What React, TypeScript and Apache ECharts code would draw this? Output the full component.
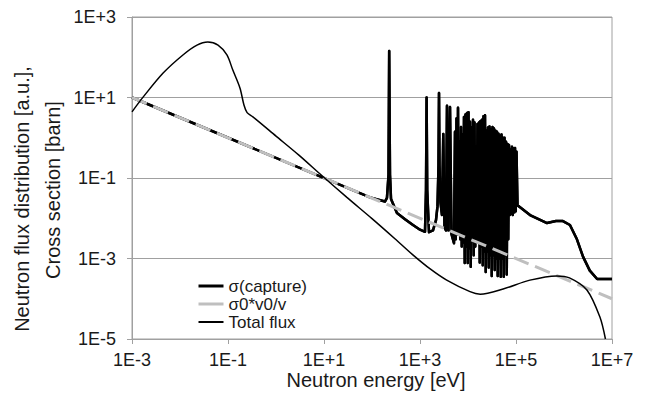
import React, { useEffect, useRef } from "react";
import * as echarts from "echarts";

// Total neutron flux (energy in eV, flux in a.u.)
const fluxEnergy = [
  1e-3, 1.7e-3, 4.5e-3, 0.0115, 0.0226, 0.038, 0.062, 0.095, 0.126, 0.178, 0.215, 0.25, 0.33,
  1, 3, 9, 30, 100, 300, 700, 1630, 3600, 11000, 18000, 54000, 195000, 700000, 1300000, 3000000,
  5600000, 7300000,
];
const fluxValues = [
  4.4, 10.2, 41, 114, 200, 240, 200, 114, 48, 17, 6.5, 4.2, 3.3,
  1.1, 0.37, 0.115, 0.033, 0.0098, 3.1e-3, 1.25e-3, 5.5e-4, 2.9e-4, 1.5e-4, 1.3e-4, 1.75e-4, 2.9e-4, 3.7e-4, 3.3e-4, 1.65e-4,
  3.5e-5, 1e-5,
];

// Capture cross section (energy in eV, sigma in barn)
const sigmaEnergy = [
  1e-3, 91, 186, 205, 221, 228, 237, 249, 331, 487, 714, 1000, 1271, 1334, 1373, 1413, 1540,
  1866, 2154, 2316, 2428, 2489, 2549, 2673, 2870, 3055, 3237, 3480, 3651, 3926, 4217, 4530, 5109,
  // unresolved resonance cluster
  5358, 5556, 5760, 5971, 6190, 6416, 6651, 6895, 7148, 7410, 7681, 7962, 8254, 8556, 8870, 9195,
  9532, 9881, 10243, 10618, 11007, 11410, 11828, 12261, 12710, 13176, 13658, 14159, 14678, 15216,
  15773, 16351, 16950, 17570, 18214, 18881, 19572, 20289, 21032, 21803, 22601, 23429, 24287, 25177,
  26099, 27055, 28046, 29073, 30138, 31242, 32386, 33572, 34802, 36076, 37398, 38767, 40187, 41659,
  43185, 44766, 46416, 48116, 49878, 51705, 53584, 55560, 57600, 59710, 61900, 64160, 66510, 68950,
  71480, 74100, 76810, 79620, 82540, 85560, 88700, 91950, 95320, 98810, 102430,
  // fast range
  107400, 196000, 443000, 680000, 950000, 1330000, 1860000, 2500000, 3450000, 4900000, 1e7,
];
const sigmaCapture = [
  10, 0.033, 0.026, 0.032, 0.12, 143, 0.12, 0.03, 0.0135, 0.0095, 0.0068, 0.0052, 0.0046, 0.05, 10, 0.05, 0.0045,
  0.005, 0.009, 0.02, 0.2, 13, 0.2, 0.025, 0.012, 1.24, 0.006, 0.005, 6.2, 0.005, 5.8, 0.004, 0.0024,
  // unresolved resonance cluster (peak, valley, peak, ...)
  1.4, 0.003, 3, 0.004, 5.6, 0.004, 0.8, 0.003, 1.85, 0.002, 1.2, 0.0025, 3.3, 7.7e-4, 3.8, 0.002,
  4.1, 7.7e-4, 4.3, 0.0018, 2.5, 6.2e-4, 1.8, 0.003, 2.8, 1.2e-3, 2.4, 0.002, 0.6, 0.003, 2.2,
  0.0025, 2.4, 8e-4, 2.6, 0.002, 2.8, 6.8e-4, 3.4, 0.0015, 3.6, 4.6e-4, 1.5, 0.0015, 1.8, 6e-4,
  1.9, 0.0012, 1.6, 3.7e-4, 1.85, 0.0012, 1.7, 5.2e-4, 1.5, 0.001, 1.4, 3.7e-4, 1.25, 0.001, 1.1,
  3.5e-4, 1.2, 0.001, 1.0, 3.5e-4, 1.0, 0.0012, 0.8, 4e-4, 0.7, 0.003, 0.66, 0.012, 0.5, 0.013,
  0.6, 0.012, 0.55, 0.014, 0.56, 0.015, 0.45,
  // fast range
  0.021, 0.012, 0.0076, 0.0085, 0.0085, 0.0068, 0.003, 0.0011, 5e-4, 3.1e-4, 3.1e-4,
];

// 1/v reference line
const refEnergy = [1e-3, 1e7];
const refSigma = [10, 1e-4];

const seriesNames = ["σ(capture)", "σ0*v0/v", "Total flux"];
const yTitleLines = ["Neutron flux distribution [a.u.],", "Cross section [barn]"];
const xTitle = "Neutron energy [eV]";

const FONT = '"Liberation Sans", Arial, sans-serif';
const GRAY = "#a0a0a0";
const TEXT = "#1a1a1a";

const zip = (xs: number[], ys: number[]) => xs.map((x, i) => [x, ys[i]]);
const fmt = (v: number) => {
  const e = Math.round(Math.log10(v));
  return "1E" + (e >= 0 ? "+" : "-") + Math.abs(e);
};

export default function App() {
  const ref = useRef<HTMLDivElement>(null);
  useEffect(() => {
    if (!ref.current) return;
    const chart = echarts.init(ref.current, undefined, { renderer: "svg" });
    chart.setOption({
      animation: false,
      backgroundColor: "#fff",
      grid: { left: 132, right: 34, top: 17, bottom: 71, show: true, borderColor: GRAY, borderWidth: 1 },
      xAxis: {
        type: "log",
        logBase: 10,
        min: 1e-3,
        max: 1e7,
        interval: 2,
        axisLine: { show: true, lineStyle: { color: GRAY } },
        axisTick: { show: true, length: 5, lineStyle: { color: GRAY } },
        axisLabel: { margin: 12, fontSize: 18, fontFamily: FONT, color: TEXT, formatter: fmt },
        splitLine: { show: false },
      },
      yAxis: {
        type: "log",
        logBase: 10,
        min: 1e-5,
        max: 1e3,
        interval: 2,
        axisLine: { show: true, lineStyle: { color: GRAY } },
        axisTick: { show: true, length: 5, lineStyle: { color: GRAY } },
        axisLabel: { margin: 16, fontSize: 18, fontFamily: FONT, color: TEXT, formatter: fmt },
        splitLine: { show: true, lineStyle: { color: GRAY, width: 1 } },
      },
      legend: {
        orient: "vertical",
        left: 192,
        top: 272,
        itemWidth: 25,
        itemHeight: 18,
        itemGap: 0,
        textStyle: { fontSize: 17, fontFamily: FONT, color: TEXT, lineHeight: 18 },
        data: [
          { name: seriesNames[0], itemStyle: { opacity: 0 }, lineStyle: { width: 3, color: "#000", type: "solid", shadowBlur: 0 } },
          { name: seriesNames[1], itemStyle: { opacity: 0 }, lineStyle: { width: 3, color: "#bfbfbf", type: "solid" } },
          { name: seriesNames[2], itemStyle: { opacity: 0 }, lineStyle: { width: 2, color: "#000", type: "solid" } },
        ],
      },
      graphic: [
        {
          type: "text",
          x: 22,
          y: 199,
          rotation: Math.PI / 2,
          style: { text: yTitleLines[0], fontSize: 20, fontFamily: FONT, fill: TEXT, align: "center", verticalAlign: "middle" },
        },
        {
          type: "text",
          x: 53,
          y: 190,
          rotation: Math.PI / 2,
          style: { text: yTitleLines[1], fontSize: 20, fontFamily: FONT, fill: TEXT, align: "center", verticalAlign: "middle" },
        },
        {
          type: "text",
          x: 376,
          y: 380,
          style: { text: xTitle, fontSize: 20, fontFamily: FONT, fill: TEXT, align: "center", verticalAlign: "middle" },
        },
      ],
      series: [
        {
          name: seriesNames[0],
          type: "line",
          data: zip(sigmaEnergy, sigmaCapture),
          symbol: "none",
          itemStyle: { color: "#000" },
          lineStyle: { color: "#000", width: 2.5, join: "round", shadowBlur: 1.5, shadowColor: "#000" },
          z: 2,
        },
        {
          name: seriesNames[1],
          type: "line",
          data: zip(refEnergy, refSigma),
          symbol: "none",
          itemStyle: { color: "#bfbfbf" },
          lineStyle: { color: "#bfbfbf", width: 3, type: [16, 7] },
          z: 3,
        },
        {
          name: seriesNames[2],
          type: "line",
          data: zip(fluxEnergy, fluxValues),
          symbol: "none",
          smooth: 0.3,
          itemStyle: { color: "#000" },
          lineStyle: { color: "#000", width: 1.5 },
          z: 4,
        },
      ],
    });
    return () => chart.dispose();
  }, []);
  return <div ref={ref} style={{ position: "fixed", left: 0, top: 0, width: 646, height: 410 }} />;
}
